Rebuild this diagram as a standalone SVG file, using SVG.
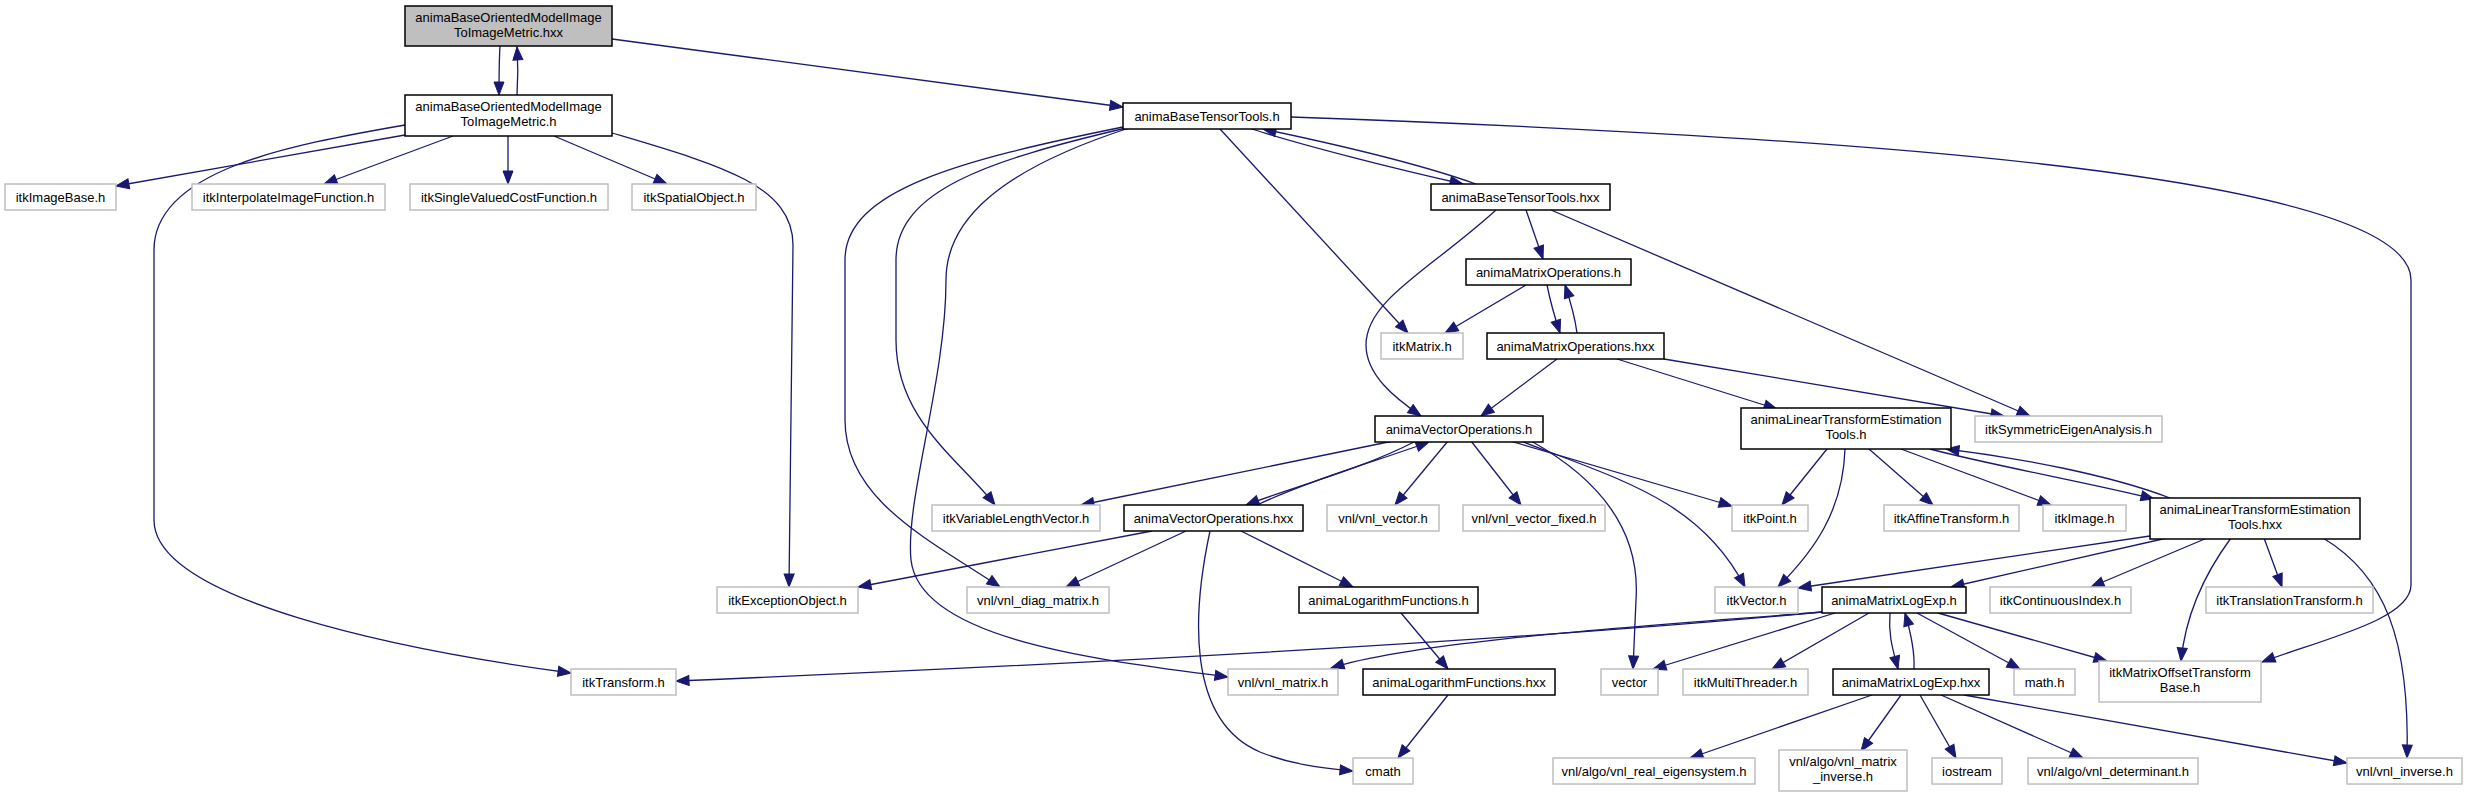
<svg xmlns="http://www.w3.org/2000/svg" width="2467" height="797" viewBox="0 0 2467 797">
<defs>
<marker id="ah" markerUnits="userSpaceOnUse" viewBox="-1 -1 15 12" markerWidth="15" markerHeight="12" refX="13" refY="5" orient="auto">
<path d="M0,0 L13,5 L0,10 Z" fill="#191970" stroke="#191970" stroke-width="1"/>
</marker>
</defs>
<style>
.n rect{fill:#ffffff;stroke:#000000;stroke-width:1.5}
.x rect{fill:#ffffff;stroke:#bfbfbf;stroke-width:1.5}
.r rect{fill:#bfbfbf;stroke:#000000;stroke-width:1.5}
text{font-family:"Liberation Sans",Arial,sans-serif;font-size:13px;fill:#000000;text-anchor:middle}
#edges path{fill:none;stroke:#191970;stroke-width:1.3;marker-end:url(#ah)}
</style>
<rect x="0" y="0" width="2467" height="797" fill="#ffffff"/>
<g id="edges">
<path d="M500,46 C499,62 499,78 499,95"/>
<path d="M517,95 C518,80 518,62 517,47"/>
<path d="M612,39 L1123,107"/>
<path d="M405,135 L116,186"/>
<path d="M453,136 L324,184"/>
<path d="M508,136 L508,184"/>
<path d="M554,136 L667,184"/>
<path d="M405,125 C290,145 154,170 154,250 L154,520 C154,600 400,650 571,673"/>
<path d="M612,133 C720,165 793,185 793,245 L789,587"/>
<path d="M1249,128 C1300,145 1400,170 1463,184"/>
<path d="M1476,184 C1420,164 1330,143 1263,129"/>
<path d="M1220,129 L1408,333"/>
<path d="M1291,117 C1800,135 2411,170 2411,280 L2411,585 C2411,620 2320,640 2262,662"/>
<path d="M1123,127 C960,160 845,190 845,260 L845,420 C845,500 930,540 1000,587"/>
<path d="M1126,128 C990,160 896,190 896,260 L896,340 C896,420 960,460 995,505"/>
<path d="M1129,128 C1000,170 946,220 946,280 C946,380 905,500 911,560 C920,640 1100,660 1228,677"/>
<path d="M1496,210 C1430,270 1366,300 1366,345 C1366,375 1395,398 1421,416"/>
<path d="M1526,210 L1543,259"/>
<path d="M1551,210 L2030,416"/>
<path d="M1526,285 L1445,333"/>
<path d="M1547,285 C1550,300 1555,318 1560,333"/>
<path d="M1577,333 C1575,318 1570,300 1565,285"/>
<path d="M1557,359 L1481,416"/>
<path d="M1617,359 L1777,409"/>
<path d="M1664,359 L2004,416"/>
<path d="M1393,441 L1081,505"/>
<path d="M1416,441 C1360,470 1290,488 1246,505"/>
<path d="M1257,505 C1310,480 1380,460 1429,442"/>
<path d="M1448,441 L1395,505"/>
<path d="M1471,441 L1521,505"/>
<path d="M1510,441 L1732,506"/>
<path d="M1521,441 C1620,480 1700,500 1745,587"/>
<path d="M1531,441 C1610,485 1640,540 1636,600 L1633,669"/>
<path d="M1152,531 L858,587"/>
<path d="M1186,531 L1066,587"/>
<path d="M1210,531 C1193,610 1185,720 1260,752 C1290,764 1320,768 1353,771"/>
<path d="M1241,531 L1353,587"/>
<path d="M1401,613 L1448,669"/>
<path d="M1448,695 L1398,758"/>
<path d="M1827,449 L1782,505"/>
<path d="M1845,449 C1843,510 1815,550 1778,587"/>
<path d="M1869,449 L1933,505"/>
<path d="M1901,449 L2051,505"/>
<path d="M1930,449 C1990,465 2100,485 2154,499"/>
<path d="M2170,498 C2110,475 2020,458 1946,449"/>
<path d="M2150,536 L1798,588"/>
<path d="M2167,538 L1951,587"/>
<path d="M2207,538 L2091,587"/>
<path d="M2231,538 C2200,580 2185,620 2181,661"/>
<path d="M2264,538 L2282,587"/>
<path d="M2323,538 C2385,575 2410,640 2407,758"/>
<path d="M1822,612 C1650,628 1300,655 676,681"/>
<path d="M1822,612 C1650,626 1420,640 1331,668"/>
<path d="M1835,613 L1653,669"/>
<path d="M1869,613 L1772,669"/>
<path d="M1890,613 C1888,635 1893,650 1898,669"/>
<path d="M1914,669 C1915,650 1910,630 1905,613"/>
<path d="M1917,613 L2020,669"/>
<path d="M1938,613 L2107,661"/>
<path d="M1872,695 L1690,758"/>
<path d="M1901,695 L1861,751"/>
<path d="M1920,695 L1956,758"/>
<path d="M1941,695 L2083,758"/>
<path d="M1964,695 L2347,763"/>
</g>
<g id="n0" class="r"><rect x="405" y="6" width="207" height="40"/><text x="508.5" y="22">animaBaseOrientedModelImage</text><text x="508.5" y="37">ToImageMetric.hxx</text></g>
<g id="n1" class="n"><rect x="405" y="95" width="207" height="41"/><text x="508.5" y="111">animaBaseOrientedModelImage</text><text x="508.5" y="126">ToImageMetric.h</text></g>
<g id="n2" class="n"><rect x="1123" y="103" width="168" height="26"/><text x="1207" y="121">animaBaseTensorTools.h</text></g>
<g id="n3" class="x"><rect x="5" y="184" width="111" height="26"/><text x="60.5" y="202">itkImageBase.h</text></g>
<g id="n4" class="x"><rect x="192" y="184" width="193" height="26"/><text x="288.5" y="202">itkInterpolateImageFunction.h</text></g>
<g id="n5" class="x"><rect x="410" y="184" width="198" height="26"/><text x="509" y="202">itkSingleValuedCostFunction.h</text></g>
<g id="n6" class="x"><rect x="632" y="184" width="124" height="26"/><text x="694" y="202">itkSpatialObject.h</text></g>
<g id="n7" class="n"><rect x="1431" y="184" width="179" height="26"/><text x="1520.5" y="202">animaBaseTensorTools.hxx</text></g>
<g id="n8" class="n"><rect x="1466" y="259" width="165" height="26"/><text x="1548.5" y="277">animaMatrixOperations.h</text></g>
<g id="n9" class="x"><rect x="1381" y="333" width="82" height="26"/><text x="1422" y="351">itkMatrix.h</text></g>
<g id="n10" class="n"><rect x="1487" y="333" width="177" height="26"/><text x="1575.5" y="351">animaMatrixOperations.hxx</text></g>
<g id="n11" class="n"><rect x="1375" y="416" width="168" height="26"/><text x="1459" y="434">animaVectorOperations.h</text></g>
<g id="n12" class="n"><rect x="1741" y="408" width="210" height="41"/><text x="1846" y="424">animaLinearTransformEstimation</text><text x="1846" y="439">Tools.h</text></g>
<g id="n13" class="x"><rect x="1975" y="416" width="187" height="26"/><text x="2068.5" y="434">itkSymmetricEigenAnalysis.h</text></g>
<g id="n14" class="x"><rect x="932" y="505" width="168" height="26"/><text x="1016" y="523">itkVariableLengthVector.h</text></g>
<g id="n15" class="n"><rect x="1124" y="505" width="179" height="26"/><text x="1213.5" y="523">animaVectorOperations.hxx</text></g>
<g id="n16" class="x"><rect x="1327" y="505" width="112" height="26"/><text x="1383" y="523">vnl/vnl_vector.h</text></g>
<g id="n17" class="x"><rect x="1463" y="505" width="142" height="26"/><text x="1534" y="523">vnl/vnl_vector_fixed.h</text></g>
<g id="n18" class="x"><rect x="1732" y="505" width="76" height="26"/><text x="1770" y="523">itkPoint.h</text></g>
<g id="n19" class="x"><rect x="1884" y="505" width="135" height="26"/><text x="1951.5" y="523">itkAffineTransform.h</text></g>
<g id="n20" class="x"><rect x="2043" y="505" width="83" height="26"/><text x="2084.5" y="523">itkImage.h</text></g>
<g id="n21" class="n"><rect x="2150" y="498" width="210" height="41"/><text x="2255" y="514">animaLinearTransformEstimation</text><text x="2255" y="529">Tools.hxx</text></g>
<g id="n22" class="x"><rect x="717" y="587" width="141" height="26"/><text x="787.5" y="605">itkExceptionObject.h</text></g>
<g id="n23" class="x"><rect x="967" y="587" width="142" height="26"/><text x="1038" y="605">vnl/vnl_diag_matrix.h</text></g>
<g id="n24" class="n"><rect x="1299" y="587" width="179" height="26"/><text x="1388.5" y="605">animaLogarithmFunctions.h</text></g>
<g id="n25" class="x"><rect x="1715" y="587" width="83" height="26"/><text x="1756.5" y="605">itkVector.h</text></g>
<g id="n26" class="n"><rect x="1822" y="587" width="144" height="26"/><text x="1894" y="605">animaMatrixLogExp.h</text></g>
<g id="n27" class="x"><rect x="1990" y="587" width="141" height="26"/><text x="2060.5" y="605">itkContinuousIndex.h</text></g>
<g id="n28" class="x"><rect x="2206" y="587" width="167" height="26"/><text x="2289.5" y="605">itkTranslationTransform.h</text></g>
<g id="n29" class="x"><rect x="571" y="669" width="105" height="26"/><text x="623.5" y="687">itkTransform.h</text></g>
<g id="n30" class="x"><rect x="1228" y="669" width="110" height="26"/><text x="1283" y="687">vnl/vnl_matrix.h</text></g>
<g id="n31" class="n"><rect x="1363" y="669" width="192" height="26"/><text x="1459" y="687">animaLogarithmFunctions.hxx</text></g>
<g id="n32" class="x"><rect x="1601" y="669" width="57" height="26"/><text x="1629.5" y="687">vector</text></g>
<g id="n33" class="x"><rect x="1683" y="669" width="125" height="26"/><text x="1745.5" y="687">itkMultiThreader.h</text></g>
<g id="n34" class="n"><rect x="1833" y="669" width="156" height="26"/><text x="1911" y="687">animaMatrixLogExp.hxx</text></g>
<g id="n35" class="x"><rect x="2014" y="669" width="61" height="26"/><text x="2044.5" y="687">math.h</text></g>
<g id="n36" class="x"><rect x="2099" y="661" width="162" height="41"/><text x="2180" y="677">itkMatrixOffsetTransform</text><text x="2180" y="692">Base.h</text></g>
<g id="n37" class="x"><rect x="1353" y="758" width="60" height="26"/><text x="1383" y="776">cmath</text></g>
<g id="n38" class="x"><rect x="1553" y="758" width="202" height="26"/><text x="1654" y="776">vnl/algo/vnl_real_eigensystem.h</text></g>
<g id="n39" class="x"><rect x="1779" y="750" width="128" height="41"/><text x="1843" y="766">vnl/algo/vnl_matrix</text><text x="1843" y="781">_inverse.h</text></g>
<g id="n40" class="x"><rect x="1932" y="758" width="70" height="26"/><text x="1967" y="776">iostream</text></g>
<g id="n41" class="x"><rect x="2028" y="758" width="170" height="26"/><text x="2113" y="776">vnl/algo/vnl_determinant.h</text></g>
<g id="n42" class="x"><rect x="2347" y="758" width="115" height="26"/><text x="2404.5" y="776">vnl/vnl_inverse.h</text></g>
</svg>
